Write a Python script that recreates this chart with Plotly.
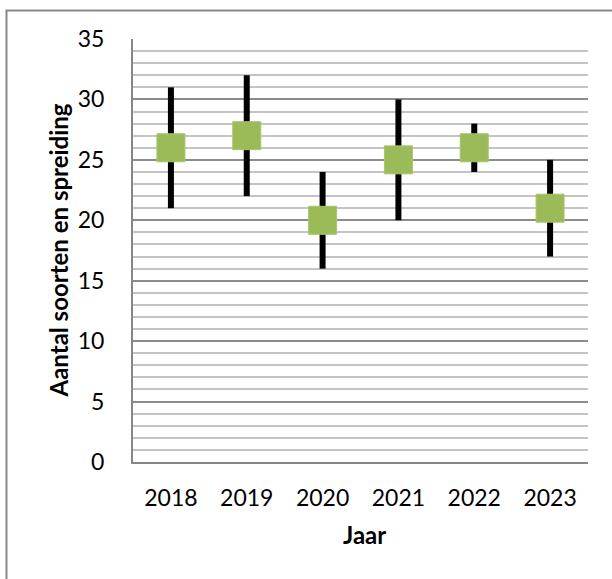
import plotly.graph_objects as go

# Jaarlijkse tellingen: gemiddeld aantal soorten met minimum en maximum
jaren = ["2018", "2019", "2020", "2021", "2022", "2023"]
gemiddeld = [26, 27, 20, 25, 26, 21]
minimum = [21, 22, 16, 20, 24, 17]
maximum = [31, 32, 24, 30, 28, 25]

y_ticks = [0, 5, 10, 15, 20, 25, 30, 35]

boven = [hi - m for hi, m in zip(maximum, gemiddeld)]
onder = [m - lo for lo, m in zip(minimum, gemiddeld)]

FONT = "Lato"

fig = go.Figure()
fig.add_trace(go.Scatter(
    x=jaren,
    y=gemiddeld,
    mode="markers",
    marker=dict(symbol="square", size=28, color="#9BBB59",
                line=dict(color="#A8C46E", width=1)),
    error_y=dict(type="data", symmetric=False, array=boven, arrayminus=onder,
                 color="black", thickness=6, width=0),
    showlegend=False,
    hoverinfo="skip",
))

fig.update_layout(
    width=612,
    height=579,
    margin=dict(l=133, r=24, t=38.5, b=117),
    paper_bgcolor="white",
    plot_bgcolor="white",
    font=dict(family=FONT, size=23, color="black"),
    xaxis=dict(
        type="category",
        range=[-0.5, 5.5],
        showgrid=False,
        showline=True,
        linecolor="#868686",
        linewidth=2,
        ticks="",
        ticklabelstandoff=14,
        tickfont=dict(family=FONT, size=23, color="black"),
    ),
    yaxis=dict(
        range=[0, 35],
        tickvals=y_ticks,
        showgrid=True,
        gridcolor="#8C8C8C",
        gridwidth=2,
        zeroline=False,
        showline=True,
        linecolor="#868686",
        linewidth=2,
        ticks="",
        ticklabelstandoff=22,
        tickfont=dict(family=FONT, size=23, color="black"),
        minor=dict(dtick=1, showgrid=True, gridcolor="#C4C4C4", gridwidth=2),
    ),
    shapes=[
        # outer chart frame
        dict(type="rect", xref="paper", yref="paper",
             x0=(6.5 - 133) / 455, x1=1.2,
             y0=-0.4, y1=(462 - 10) / 423.5,
             line=dict(color="#898989", width=2), fillcolor="rgba(0,0,0,0)",
             layer="below"),
    ],
    annotations=[
        dict(text="<b>Aantal soorten en spreiding</b>", textangle=-90,
             xref="paper", yref="paper",
             x=(58 - 133) / 455, y=0.5, xanchor="center", yanchor="middle",
             showarrow=False, font=dict(family=FONT, size=24, color="black")),
        dict(text="<b>Jaar</b>",
             xref="paper", yref="paper",
             x=(364 - 133) / 455, y=(462 - 535) / 423.5,
             xanchor="center", yanchor="middle",
             showarrow=False, font=dict(family=FONT, size=24, color="black")),
    ],
)

fig.write_html("out.html")
